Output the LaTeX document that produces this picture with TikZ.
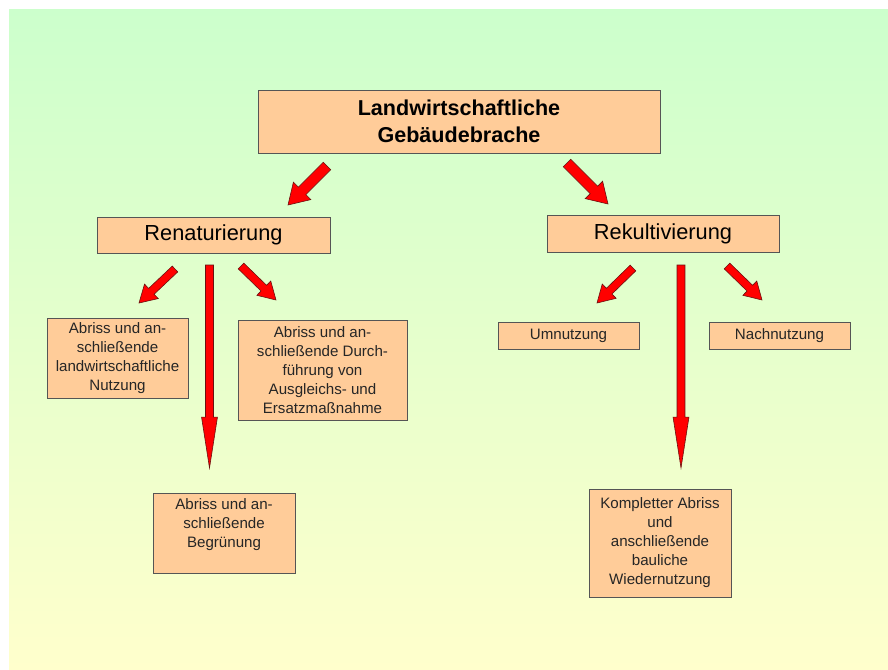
\documentclass[tikz,border=0pt]{standalone}
\usepackage{fontspec}
\setmainfont{Liberation Sans}
\usetikzlibrary{calc}
\definecolor{peach}{HTML}{FFCC99}
\definecolor{bgtop}{HTML}{CCFFCC}
\definecolor{bgbot}{HTML}{FFFFCC}
\definecolor{boxline}{HTML}{555555}
\definecolor{arrline}{HTML}{6A1010}
% block arrow: tail, tip, half shaft, half head, head length
\newcommand{\blockarr}[5]{%
\coordinate (hb) at ($(#2)!#5!(#1)$);
\filldraw[redarrow] ($(#1)!#3!90:(#2)$) -- ($(hb)!#3!90:(#2)$) -- ($(hb)!#4!90:(#2)$) -- (#2)
  -- ($(hb)!#4!-90:(#2)$) -- ($(hb)!#3!-90:(#2)$) -- ($(#1)!#3!-90:(#2)$) -- cycle;}
\begin{document}
\begin{tikzpicture}[x=0.3mm,y=0.3mm]
\tikzstyle{every node}+=[inner sep=0pt]
\tikzstyle{box}=[draw=boxline, fill=peach, line width=0.6pt, align=center]
\tikzstyle{small}=[box, font=\fontsize{12.9}{16.2}\selectfont, text=black!85]
\tikzstyle{big}=[box, font=\fontsize{18.6}{23}\selectfont]
\tikzstyle{title}=[box, font=\fontsize{18.4}{23}\selectfont\bfseries]
\tikzstyle{redarrow}=[fill=red, draw=arrline, line width=0.5pt, line join=miter]
\useasboundingbox (0,0) rectangle (888,-669);
\shade[top color=bgtop, bottom color=bgbot] (9,-9) rectangle (888,-669);
\node[title, minimum width=402*0.3mm, minimum height=63*0.3mm] (top) at (459,-121.5) {Landwirtschaftliche\\Gebäudebrache};
\node[big, minimum width=233*0.3mm, minimum height=36*0.3mm] (ren) at (213.5,-235) {Renaturierung};
\node[big, minimum width=232*0.3mm, minimum height=37*0.3mm] (rek) at (663,-233.5) {Rekultivierung};
\node[small, minimum width=141*0.3mm, minimum height=80*0.3mm] (nutz) at (117.5,-358) {Abriss und an-\\schließende\\landwirtschaftliche\\Nutzung};
\node[small, minimum width=169*0.3mm, minimum height=100*0.3mm] (ausgl) at (322.5,-370) {Abriss und an-\\schließende Durch-\\führung von\\Ausgleichs- und\\Ersatzmaßnahme};
\node[small, minimum width=142*0.3mm, minimum height=80*0.3mm] (begr) at (224,-533) {};
\node[small, draw=none, fill=none] (begrtxt) at (224,-525) {Abriss und an-\\schließende\\Begrünung};
\node[small, minimum width=141*0.3mm, minimum height=27*0.3mm] (umn) at (568.5,-335.5) {Umnutzung};
\node[small, minimum width=141*0.3mm, minimum height=27*0.3mm] (nachn) at (779.5,-335.5) {Nachnutzung};
\node[small, minimum width=142*0.3mm, minimum height=108*0.3mm] (kompl) at (660,-543) {Kompletter Abriss\\und\\anschließende\\bauliche\\Wiedernutzung};
% arrow ends
\coordinate (t1) at (327,-166);
\coordinate (h1) at (288,-205);
\coordinate (t2) at (567,-163);
\coordinate (h2) at (608,-204);
\coordinate (t3) at (175,-269);
\coordinate (h3) at (139,-303);
\coordinate (t4) at (241,-266);
\coordinate (h4) at (276,-300);
\coordinate (t5) at (633,-268);
\coordinate (h5) at (597,-303);
\coordinate (t6) at (727,-266);
\coordinate (h6) at (762,-300);
\coordinate (t7) at (209.5,-265);
\coordinate (h7) at (209.5,-468);
\coordinate (t8) at (681,-265);
\coordinate (h8) at (681,-468);
\blockarr{t1}{h1}{4.5pt}{10.5pt}{17pt}
\blockarr{t2}{h2}{4.5pt}{10.5pt}{17pt}
\blockarr{t3}{h3}{3.4pt}{8.5pt}{14.5pt}
\blockarr{t4}{h4}{3.4pt}{8.5pt}{14.5pt}
\blockarr{t5}{h5}{3.4pt}{8.5pt}{14.5pt}
\blockarr{t6}{h6}{3.4pt}{8.5pt}{14.5pt}
\blockarr{t7}{h7}{3.4pt}{6.8pt}{43.5pt}
\blockarr{t8}{h8}{3.4pt}{6.8pt}{43.5pt}
\end{tikzpicture}
\end{document}
